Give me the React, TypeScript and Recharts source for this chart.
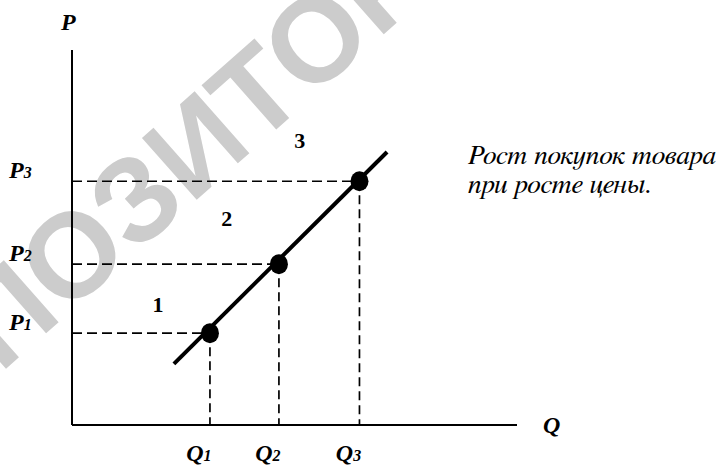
import React from 'react';
import { ComposedChart, Line, Scatter, XAxis, YAxis, ReferenceLine } from 'recharts';

const SERIF = 'Liberation Serif, serif';
// Liberation Serif has no Cyrillic here, FreeSerif does
const CYR_SERIF = 'FreeSerif, Liberation Serif, serif';

// price levels P1..P3 and matching quantities Q1..Q3
const levelNames = ['1', '2', '3'];
const priceLevels = [2.45, 4.29, 6.5];
const quantityLevels = [3.1, 4.65, 6.46];

// the supply line ends
const supplyQ = [2.29, 7.08];
const supplyP = [1.63, 7.28];

// numbered areas between the dashed lines
const areaNames = ['1', '2', '3'];
const areaQ = [1.93, 3.48, 5.12];
const areaP = [3.23, 5.53, 7.59];

const noteLines = ['Рост покупок товара', 'при росте цены.'];

const lineData = supplyQ.map((q, i) => ({ q, p: supplyP[i] }));
const pointData = levelNames.map((name, i) => ({ name, q: quantityLevels[i], p: priceLevels[i] }));
const priceTicks = levelNames.map((name, i) => ({ name, q: 0, p: priceLevels[i] }));
const quantityTicks = levelNames.map((name, i) => ({ name, q: quantityLevels[i], p: 0 }));
const areaData = areaNames.map((name, i) => ({ name, q: areaQ[i], p: areaP[i] }));
const axisNames = [
    { name: 'P', q: 0, p: 10 },
    { name: 'Q', q: 10, p: 0 },
];

const boldItalic = { fontFamily: SERIF, fontWeight: 700, fontStyle: 'italic' as const, fill: '#000' };

const Dot = (props: any) => <ellipse cx={props.cx} cy={props.cy} rx={9} ry={10} fill="#000" />;

const PriceTick = (props: any) => (
    <text x={props.cx - 63} y={props.cy - 3} fontSize={24} style={boldItalic}>
        P<tspan fontSize={16}>{props.payload.name}</tspan>
    </text>
);

const QuantityTick = (props: any) => (
    <text x={props.cx - 11} y={props.cy + 36} fontSize={24} textAnchor="middle" style={boldItalic}>
        Q<tspan fontSize={16}>{props.payload.name}</tspan>
    </text>
);

const AreaLabel = (props: any) => (
    <text x={props.cx} y={props.cy + 8} fontSize={22} textAnchor="middle"
        style={{ fontFamily: SERIF, fontWeight: 700, fill: '#000' }}>
        {props.payload.name}
    </text>
);

const AxisName = (props: any) => {
    const isP = props.payload.name === 'P';
    return (
        <text x={isP ? props.cx - 11 : props.cx + 26} y={isP ? props.cy - 20 : props.cy + 8}
            fontSize={24} style={boldItalic}>
            {props.payload.name}
        </text>
    );
};

const axisStyle = { stroke: '#000', strokeWidth: 2 };

export default function App() {
    return (
        <div style={{ position: 'absolute', left: 0, top: 0, width: 719, height: 466, background: '#fff', overflow: 'hidden' }}>
            <svg width={719} height={466} style={{ position: 'absolute', left: 0, top: 0 }}>
                <text x={0} y={0} transform="translate(-120,480) rotate(-41.5)"
                    style={{ fontFamily: 'Liberation Sans, Arial, sans-serif', fontWeight: 700, fill: '#cccccc' }} fontSize={120}>
                    РЕПОЗИТОРИЙ
                </text>
            </svg>
            <div style={{ position: 'absolute', left: 0, top: 0 }}>
                <ComposedChart width={719} height={466} margin={{ top: 50, right: 202, bottom: 40, left: 71 }}>
                    <XAxis dataKey="q" type="number" domain={[0, 10]} height={1} tick={false} tickLine={false}
                        axisLine={axisStyle} />
                    <YAxis dataKey="p" type="number" domain={[0, 10]} width={1} tick={false} tickLine={false}
                        axisLine={axisStyle} />
                    {pointData.map((d) => (
                        <ReferenceLine key={'h' + d.name} segment={[{ x: 0, y: d.p }, { x: d.q, y: d.p }]}
                            stroke="#000" strokeWidth={1.7} strokeDasharray="10 5" />
                    ))}
                    {pointData.map((d) => (
                        <ReferenceLine key={'v' + d.name} segment={[{ x: d.q, y: d.p }, { x: d.q, y: 0 }]}
                            stroke="#000" strokeWidth={1.7} strokeDasharray="9 5" />
                    ))}
                    <Line data={lineData} dataKey="p" stroke="#000" strokeWidth={4} dot={false} activeDot={false}
                        isAnimationActive={false} />
                    <Scatter data={pointData} dataKey="p" shape={Dot} isAnimationActive={false} />
                    <Scatter data={priceTicks} dataKey="p" shape={PriceTick} isAnimationActive={false} />
                    <Scatter data={quantityTicks} dataKey="p" shape={QuantityTick} isAnimationActive={false} />
                    <Scatter data={areaData} dataKey="p" shape={AreaLabel} isAnimationActive={false} />
                    <Scatter data={axisNames} dataKey="p" shape={AxisName} isAnimationActive={false} />
                </ComposedChart>
            </div>
            <svg width={719} height={466} style={{ position: 'absolute', left: 0, top: 0 }}>
                {noteLines.map((t, i) => (
                    <text key={t} x={468} y={164 + i * 29} fontSize={27.5}
                        style={{ fontFamily: CYR_SERIF, fontStyle: 'italic', fill: '#000' }}>
                        {t}
                    </text>
                ))}
            </svg>
        </div>
    );
}
